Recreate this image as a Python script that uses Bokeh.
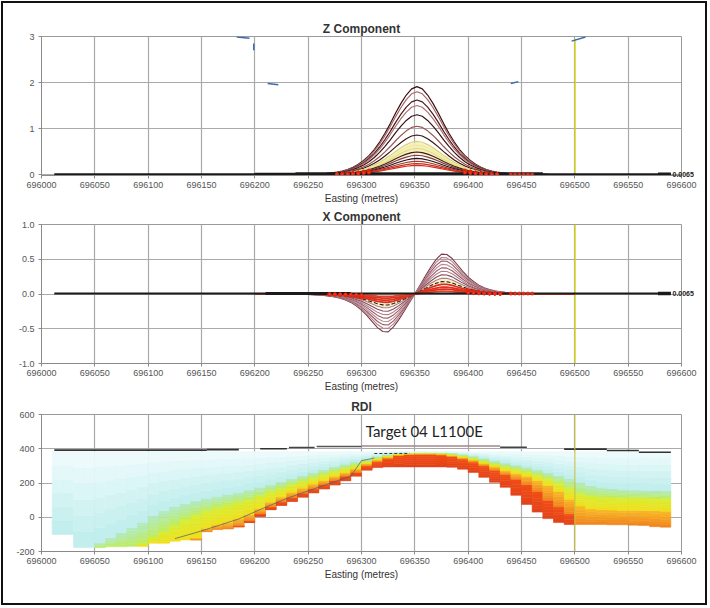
import numpy as np
from bokeh.plotting import figure
from bokeh.layouts import column
from bokeh.models import FixedTicker, Range1d, NumeralTickFormatter, LinearAxis
from bokeh.embed import file_html
from bokeh.resources import INLINE
from bokeh.core.properties import value

# ---------------- data ----------------
EASTING_TICKS = [696000, 696050, 696100, 696150, 696200, 696250, 696300,
                 696350, 696400, 696450, 696500, 696550, 696600]
Z_TICKS = [0, 1, 2, 3]
X_TICKS = [-1.0, -0.5, 0.0, 0.5, 1.0]
RDI_TICKS = [-200, 0, 200, 400, 600]

# Z component: half profile (normalised) read every 5 m from the peak
Z_CENTER = 696352
HALF_OFFSETS = [0, 5, 10, 15, 20, 25, 30, 35, 40, 45, 50, 55, 60, 65, 70, 75,
                80, 85, 90, 95, 100, 105, 110, 115, 120, 125, 130, 135, 140, 145, 150]
Z_HALF_PROFILE = [1.0, 0.975, 0.905, 0.81, 0.70, 0.58, 0.47, 0.37, 0.285, 0.215,
                  0.16, 0.117, 0.083, 0.058, 0.04, 0.027, 0.019, 0.013, 0.009, 0.006,
                  0.004, 0.003, 0.0025, 0.002, 0.0015, 0.001, 0.001, 0.0008, 0.0006,
                  0.0004, 0.0002]
Z_PEAKS = [1.91, 1.80, 1.62, 1.50, 1.30, 1.05, 0.86, 0.72, 0.64, 0.57, 0.49,
           0.42, 0.35, 0.29, 0.24, 0.20]
Z_COLORS = ["#3a1010", "#a86468", "#4a1a1a", "#b07074", "#3a1212", "#9a5458",
            "#3a1515", "#d8d078", "#f0eaa0", "#e4dc80", "#3a2020", "#8a3a3a",
            "#2a1010", "#a03a30", "#c83020", "#d83020"]
Z_LAST_VALUE = 0.0065
LAST_LABEL = "0.0065"

# X component: odd half profile (normalised) read every 5 m from the crossover
X_CENTER = 696350
X_HALF_PROFILE = [0.0, 0.22, 0.45, 0.67, 0.86, 0.99, 0.98, 0.88, 0.72, 0.56,
                  0.42, 0.31, 0.22, 0.155, 0.11, 0.078, 0.055, 0.04, 0.028, 0.02,
                  0.014, 0.01, 0.007, 0.005, 0.004, 0.003, 0.002, 0.0015, 0.001,
                  0.0005, 0.0]
X_POS_PEAKS = [0.58, 0.53, 0.48, 0.43, 0.38, 0.33, 0.28, 0.23, 0.18, 0.14, 0.10, 0.07, 0.04]
X_NEG_PEAKS = [0.55, 0.50, 0.45, 0.40, 0.35, 0.30, 0.25, 0.20, 0.16, 0.12, 0.09, 0.06, 0.035]
X_COLORS = ["#7a3a48", "#b08088", "#9a5a68", "#b88c94", "#9a5a68", "#b08088",
            "#8a4a58", "#b08088", "#2a1a1a", "#d83020", "#e03020", "#d83020", "#e04020"]

# survey extent and reference line
LINE_START = 696012
LINE_END = 696590
REF_LINE_X = 696500

# RDI section: 10 m columns, boundaries (m)
RDI_CENTERS = [696015 + 10 * i for i in range(58)]
RDI_B = [-100, -100, -177, -177, -177, -172, -172, -170, -170, -152, -152, -140, -133, -133,
         -85, -72, -68, -56, -30, 5, 44, 69, 92, 117, 142, 165, 188, 213, 240, 275, 290,
         294, 294, 294, 294, 294, 294, 292, 281, 262, 233, 204, 175, 128, 75, 30, -8, -31,
         -42, -42, -42, -42, -44, -44, -46, -48, -55, -58]
RDI_R = [-100, -100, -177, -177, -177, -172, -172, -170, -170, -152, -152, -140, -133, -133,
         -85, -72, -68, -50, -20, 20, 60, 90, 115, 140, 165, 190, 215, 240, 262, 300, 325,
         345, 360, 366, 368, 368, 364, 355, 340, 322, 300, 275, 250, 222, 190, 150, 100, 60,
         20, -42, -42, -42, -44, -44, -46, -48, -55, -58]
RDI_O = [-100, -100, -177, -177, -177, -172, -172, -170, -170, -152, -152, -140, -133, -120,
         -65, -45, -30, -10, 15, 50, 88, 118, 146, 170, 194, 215, 238, 260, 282, 314, 336,
         352, 366, 371, 373, 373, 370, 362, 350, 335, 315, 295, 272, 255, 240, 215, 185, 150,
         105, 65, 48, 44, 42, 40, 40, 40, 38, 35]
RDI_Y = [-100, -100, -177, -177, -177, -172, -172, -170, -150, -115, -80, -45, -10, 15,
         40, 58, 74, 90, 105, 125, 150, 170, 192, 212, 232, 252, 270, 288, 305, 326, 346,
         361, 372, 376, 378, 378, 376, 370, 360, 346, 330, 312, 296, 282, 268, 250, 228, 202,
         172, 140, 126, 120, 118, 116, 115, 114, 112, 110]
RDI_G = [-100, -100, -177, -177, -150, -120, -90, -60, -30, 10, 40, 62, 80, 96,
         110, 122, 134, 146, 160, 175, 192, 208, 226, 244, 262, 278, 295, 310, 324, 342, 356,
         367, 376, 379, 380, 380, 379, 376, 368, 357, 344, 330, 317, 304, 292, 278, 262, 243,
         225, 205, 186, 175, 168, 163, 160, 158, 156, 156]
RDI_TOP = 383

TOPO_X0 = [696012, 696155, 696205, 696232, 696258, 696300, 696430, 696490, 696530, 696560]
TOPO_X1 = [696155, 696185, 696230, 696256, 696300, 696430, 696455, 696530, 696560, 696590]
TOPO_Y = [392, 395, 400, 407, 413, 416, 409, 398, 390, 380]

PLATE_X = [696125, 696150, 696185, 696205, 696230, 696262, 696290, 696300, 696312]
PLATE_Y = [-125, -80, -10, 45, 110, 180, 240, 330, 346]

TARGET_TEXT = "Target  04 L1100E"
TARGET_X = 696304
TARGET_Y = 505

# ---------------- styling helpers ----------------
FONT = "Liberation Sans"
W = 702


def make_fig(title, yr, yticks, h, top, bottom, last_label=False):
    p = figure(width=W, height=h, x_range=Range1d(696000, 696600), y_range=Range1d(*yr),
               output_backend="svg", toolbar_location=None,
               min_border_left=38, min_border_right=24,
               min_border_top=top, min_border_bottom=bottom)
    p.title.text = title
    p.title.align = "center"
    p.title.text_font = FONT
    p.title.text_font_size = "12px"
    p.title.text_font_style = "bold"
    p.title.text_color = "#333333"
    p.title.standoff = 2
    p.xaxis.ticker = FixedTicker(ticks=EASTING_TICKS)
    p.xaxis.formatter = NumeralTickFormatter(format="0")
    p.yaxis.ticker = FixedTicker(ticks=yticks)
    p.xaxis.axis_label = "Easting (metres)"
    for ax in (p.xaxis[0], p.yaxis[0]):
        ax.major_label_text_font = FONT
        ax.major_label_text_font_size = "9px"
        ax.major_label_text_color = "#555555"
        ax.axis_label_text_font = FONT
        ax.axis_label_text_font_size = "10px"
        ax.axis_label_text_font_style = "normal"
        ax.axis_label_text_color = "#333333"
        ax.axis_label_standoff = 2
        ax.major_label_standoff = 3
        ax.major_tick_out = 3
        ax.major_tick_in = 0
        ax.minor_tick_out = 0
        ax.minor_tick_in = 0
        ax.axis_line_color = "#8a8a8a"
        ax.major_tick_line_color = "#8a8a8a"
    p.yaxis.major_label_standoff = 4
    if last_label:
        ra = LinearAxis(ticker=FixedTicker(ticks=[Z_LAST_VALUE]),
                        major_label_overrides={Z_LAST_VALUE: LAST_LABEL})
        ra.axis_line_color = None
        ra.major_tick_line_color = None
        ra.minor_tick_line_color = None
        ra.major_label_standoff = -15
        ra.major_label_text_font = FONT
        ra.major_label_text_font_size = "7px"
        ra.major_label_text_font_style = "bold"
        ra.major_label_text_color = "#222222"
        p.add_layout(ra, "right")
    p.grid.grid_line_color = "#a9a9a9"
    p.grid.grid_line_width = 1.2
    p.outline_line_color = "#9a9a9a"
    p.background_fill_color = "white"
    p.border_fill_color = "white"
    return p


def mirror_even(vals):
    return vals[::-1] + vals[1:]


full_off = [-o for o in HALF_OFFSETS[::-1]] + HALF_OFFSETS[1:]

# ---------------- Z component ----------------
pz = make_fig("Z Component", (-0.02, 3), Z_TICKS, 203, 33, 30, last_label=True)
pz.yaxis[0].formatter = NumeralTickFormatter(format="0")
zx = [Z_CENTER + o for o in full_off]
zprof = mirror_even(Z_HALF_PROFILE)
pz.varea(x=zx, y1=[0.45 * v for v in zprof], y2=[0.70 * v for v in zprof],
         fill_color="#f6f0b8", fill_alpha=0.9)
pz.segment(x0=[REF_LINE_X], y0=[0], x1=[REF_LINE_X], y1=[2.95], line_color="#cccc22", line_width=1.6)
for pk, col in zip(Z_PEAKS, Z_COLORS):
    pz.line(zx, [pk * v for v in zprof], line_color=col, line_width=1.2)
pz.segment(x0=[LINE_START, 696200, 696238, 696578], y0=[Z_LAST_VALUE] * 4,
           x1=[LINE_END, 696238, 696470, LINE_END], y1=[Z_LAST_VALUE] * 4,
           line_color="#1a1a1a", line_width=[2.2, 3, 4, 3.5])
mx, my = [], []
for pk in Z_PEAKS[-5:]:
    for o, v in zip(HALF_OFFSETS, Z_HALF_PROFILE):
        if 45 <= o <= 75:
            mx += [Z_CENTER - o, Z_CENTER + o]
            my += [pk * v, pk * v]
mx += [696440, 696444, 696448, 696452, 696456, 696460]
my += [Z_LAST_VALUE] * 6
pz.scatter(mx, my, marker="circle", size=3, line_color="#e02010", fill_color="#f04020",
           line_width=1, alpha=0.85)
pz.segment(x0=[696183, 696199, 696212, 696440, 696497], y0=[2.99, 2.85, 1.98, 1.98, 2.90],
           x1=[696195, 696199, 696222, 696447, 696510], y1=[2.96, 2.70, 1.95, 2.02, 2.99],
           line_color="#3a6ab0", line_width=1.5)

# ---------------- X component ----------------
px = make_fig("X Component", (-1.0, 1.0), X_TICKS, 190, 18, 33, last_label=True)
px.yaxis[0].formatter = NumeralTickFormatter(format="0.0")
xx = [X_CENTER + o for o in full_off]


def xcurve(pos, neg):
    left = [-neg * v for v in X_HALF_PROFILE[::-1]]
    right = [pos * v for v in X_HALF_PROFILE[1:]]
    return left + right


px.segment(x0=[REF_LINE_X], y0=[-1], x1=[REF_LINE_X], y1=[1], line_color="#cccc22", line_width=1.6)
px.varea(x=xx, y1=xcurve(X_POS_PEAKS[9], X_NEG_PEAKS[9]), y2=xcurve(X_POS_PEAKS[7], X_NEG_PEAKS[7]),
         fill_color="#f6efc4", fill_alpha=0.95)
for pp, nn, col in zip(X_POS_PEAKS, X_NEG_PEAKS, X_COLORS):
    dash = "4 2" if col == "#2a1a1a" else "solid"
    lw = 1.8 if col.startswith("#d") or col.startswith("#e") else 1.1
    px.line(xx, xcurve(pp, nn), line_color=col, line_width=lw, line_dash=dash)
px.segment(x0=[LINE_START, 696210, 696578], y0=[Z_LAST_VALUE] * 3,
           x1=[LINE_END, 696290, LINE_END], y1=[Z_LAST_VALUE] * 3,
           line_color="#1a1a1a", line_width=[2.0, 3, 3.5])
xmx, xmy = [], []
for pp, nn in zip(X_POS_PEAKS[-4:], X_NEG_PEAKS[-4:]):
    for o, v in zip(HALF_OFFSETS, X_HALF_PROFILE):
        if 50 <= o <= 80:
            xmx += [X_CENTER - o, X_CENTER + o]
            xmy += [-nn * v, pp * v]
xmx += [696440, 696444, 696448, 696452, 696456, 696460]
xmy += [Z_LAST_VALUE] * 6
px.scatter(xmx, xmy, marker="circle", size=3, line_color="#e02010", fill_color="#f04020", alpha=0.85)

# ---------------- RDI ----------------
pr = make_fig("RDI", (-200, 600), RDI_TICKS, 207, 16, 52)
pr.yaxis[0].formatter = NumeralTickFormatter(format="0")

BANDS = [  # (lower level, upper level, bottom colour, top colour)
    ("B", "R", (226, 66, 26), (242, 78, 22)),
    ("R", "O", (240, 130, 30), (248, 186, 40)),
    ("O", "Y", (242, 222, 28), (214, 238, 54)),
    ("Y", "G", (190, 236, 96), (178, 234, 200)),
    ("G", "T", (190, 238, 236), (240, 251, 253)),
]
LEVELS = {"B": RDI_B, "R": RDI_R, "O": RDI_O, "Y": RDI_Y, "G": RDI_G,
          "T": [RDI_TOP] * len(RDI_CENTERS)}
NSUB = 6
ql, qr, qb, qt, qc = [], [], [], [], []
for i, c in enumerate(RDI_CENTERS):
    for lo, hi, c0, c1 in BANDS:
        a, b = LEVELS[lo][i], LEVELS[hi][i]
        if b <= a:
            continue
        for s in range(NSUB):
            f0, f1 = s / NSUB, (s + 1) / NSUB
            fm = (s + 0.5) / NSUB
            col = tuple(int(round(c0[k] + (c1[k] - c0[k]) * fm)) for k in range(3))
            ql.append(c - 5)
            qr.append(c + 5)
            qb.append(a + (b - a) * f0)
            qt.append(a + (b - a) * f1)
            qc.append("#%02x%02x%02x" % col)
pr.quad(left=ql, right=qr, bottom=qb, top=qt, fill_color=qc, line_color=qc, line_width=0.6)
pr.line(PLATE_X, PLATE_Y, line_color="#4a5a78", line_width=1, line_alpha=0.7)
pr.segment(x0=[696312], y0=[372], x1=[696345], y1=[373], line_color="#333333",
           line_width=1, line_dash="3 2")
pr.segment(x0=TOPO_X0, y0=TOPO_Y, x1=TOPO_X1, y1=TOPO_Y,
           line_color=["#333333", "#333333", "#333333", "#444444", "#555555", "#a08888",
                       "#444444", "#333333", "#333333", "#333333"], line_width=1.6)
pr.segment(x0=[REF_LINE_X], y0=[-200], x1=[REF_LINE_X], y1=[600], line_color="#c8c040",
           line_width=1.3, line_alpha=0.8)
pr.text(x=[TARGET_X], y=[TARGET_Y], text=[TARGET_TEXT], text_font=value("Lato"),
        text_font_size="15px", text_color="#222222", text_baseline="middle")

layout = column(pz, px, pr, spacing=0,
                styles={"outline": "2px solid #111111", "margin-left": "3px",
                        "margin-top": "3px", "background": "white"})

open("out.html", "w").write(file_html(layout, INLINE))
